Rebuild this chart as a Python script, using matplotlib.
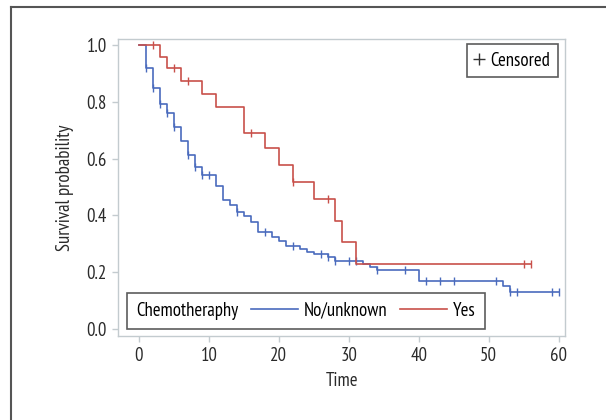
import numpy as np
import matplotlib
matplotlib.use('Agg')
import matplotlib.pyplot as plt
from matplotlib.lines import Line2D
from matplotlib.offsetbox import HPacker

plt.rcParams['font.family'] = ['PT Sans Narrow', 'Fira Sans Condensed', 'DejaVu Sans']

# Kaplan-Meier estimates
# No/unknown group
no_times = [0, 1, 2, 3, 4, 5, 6, 7, 8, 9, 11, 12, 13, 14, 15, 16, 17, 19, 20, 21,
            23, 24, 25, 27, 28, 32, 33, 34, 40, 52, 53]
no_surv = [1.0, 0.918, 0.850, 0.791, 0.759, 0.712, 0.662, 0.613, 0.569, 0.542,
           0.505, 0.454, 0.437, 0.413, 0.396, 0.378, 0.343, 0.325, 0.310, 0.293,
           0.281, 0.272, 0.264, 0.252, 0.239, 0.229, 0.219, 0.208, 0.170, 0.151, 0.131]
no_end = 60
no_censor = [1, 2, 3, 4, 5, 7, 8, 9, 10, 14, 18, 22, 26, 27, 28, 30, 31, 34, 38,
             41, 43, 45, 51, 53, 54, 59, 60]

# Yes group
yes_times = [0, 3, 4, 6, 9, 11, 15, 18, 20, 22, 25, 28, 29, 31]
yes_surv = [1.0, 0.959, 0.918, 0.873, 0.826, 0.780, 0.689, 0.636, 0.577, 0.519,
            0.456, 0.380, 0.305, 0.229]
yes_end = 56
yes_censor = [2, 5, 7, 16, 22, 27, 55, 56]

blue = '#4a6bbd'
red = '#c8504a'
frame_col = '#c3cbcf'
txt_col = '#2a2a2a'
fs = 13.5


def km_at(times, surv, t):
    i = np.searchsorted(times, t, side='right') - 1
    return np.asarray(surv)[i]


fig = plt.figure(figsize=(6.06, 4.20), dpi=100)
ax = fig.add_axes([118/606, 84/420, 447/606, 297/420])

for times, surv, end, cens, col in [(no_times, no_surv, no_end, no_censor, blue),
                                    (yes_times, yes_surv, yes_end, yes_censor, red)]:
    tt = list(times) + [end]
    ss = list(surv) + [surv[-1]]
    ax.step(tt, ss, where='post', color=col, lw=1.2)
    ax.plot(cens, km_at(times, surv, cens), linestyle='none', marker='|',
            markersize=6, markeredgewidth=1.0, color=col)

ax.set_xlim(-3, 60.9)
ax.set_ylim(-0.025, 1.021)
ax.set_xticks(range(0, 61, 10))
ax.set_yticks(np.arange(0, 1.01, 0.2))
ax.set_yticklabels(['0.0', '0.2', '0.4', '0.6', '0.8', '1.0'])
for s in ax.spines.values():
    s.set_color(frame_col)
    s.set_linewidth(1.0)
ax.tick_params(colors=frame_col, labelcolor=txt_col, labelsize=fs, length=4,
               width=1.0, pad=4)
ax.set_xlabel('Time', fontsize=fs, color=txt_col, labelpad=5)
ax.set_ylabel('Survival probability', fontsize=fs, color=txt_col, labelpad=9)

# group legend along the bottom, title placed to the left of the entries
em = fs * 100 / 72
handles = [Line2D([], [], color=blue, lw=1.2), Line2D([], [], color=red, lw=1.2)]
leg = ax.legend(handles, ['No/unknown', 'Yes'], title='Chemotheraphy', ncol=2,
                loc='lower left', bbox_to_anchor=(0.02, 0.024), borderaxespad=0,
                fontsize=fs, title_fontsize=fs, frameon=True, fancybox=False,
                edgecolor='#333333', handlelength=2.5, columnspacing=0.7,
                handletextpad=0.3, borderpad=0.35)
leg.get_frame().set_linewidth(1.2)
kids = leg._legend_box.get_children()
leg._legend_box = HPacker(pad=0.35 * em, sep=0.5 * em, align='center', children=kids)
leg._legend_box.set_figure(fig)
leg._legend_box.axes = ax
leg._legend_box.set_offset(leg._findoffset)
ax.add_artist(leg)

# censored legend
cleg = ax.legend([Line2D([], [], color='#333333', marker='+', linestyle='none',
                         markersize=9, markeredgewidth=1.0)], ['Censored'],
                 loc='upper right', bbox_to_anchor=(0.984, 0.983), borderaxespad=0,
                 fontsize=fs, frameon=True, fancybox=False, edgecolor='#333333',
                 handlelength=0.5, handletextpad=0.35, borderpad=0.4)
cleg.get_frame().set_linewidth(1.2)

# outer frame lines (top and left)
fig.add_artist(Line2D([11/606, 1], [1 - 7/420, 1 - 7/420], color='#555555', lw=1.5,
                      transform=fig.transFigure))
fig.add_artist(Line2D([11/606, 11/606], [0, 1 - 7/420], color='#555555', lw=1.5,
                      transform=fig.transFigure))

fig.savefig('out.png', dpi=100)
